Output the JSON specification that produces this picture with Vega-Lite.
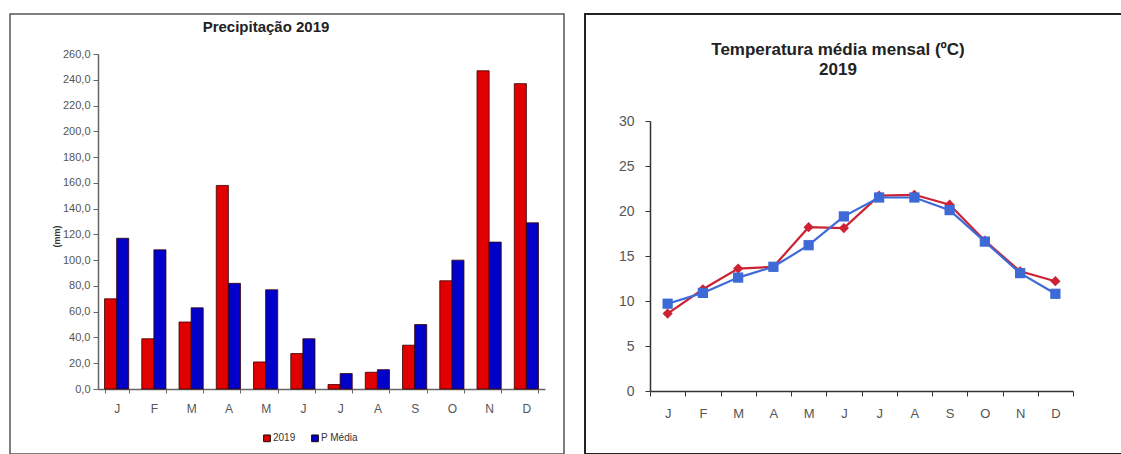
{
  "$schema": "https://vega.github.io/schema/vega-lite/v6.json",
  "padding": {"left": 9, "top": 13, "right": 0, "bottom": 0},
  "background": "white",
  "spacing": 19,
  "resolve": {"scale": {"color": "independent", "shape": "independent"}, "legend": {"color": "independent"}},
  "config": {
    "font": "Liberation Sans",
    "axis": {"grid": false}
  },
  "datasets": {
    "precip": [
      {"mes": "Jan", "serie": "2019", "valor": 70},
      {"mes": "Jan", "serie": "P Média", "valor": 117},
      {"mes": "Fev", "serie": "2019", "valor": 39},
      {"mes": "Fev", "serie": "P Média", "valor": 108},
      {"mes": "Mar", "serie": "2019", "valor": 52},
      {"mes": "Mar", "serie": "P Média", "valor": 63},
      {"mes": "Abr", "serie": "2019", "valor": 158},
      {"mes": "Abr", "serie": "P Média", "valor": 82},
      {"mes": "Mai", "serie": "2019", "valor": 21},
      {"mes": "Mai", "serie": "P Média", "valor": 77},
      {"mes": "Jun", "serie": "2019", "valor": 27.5},
      {"mes": "Jun", "serie": "P Média", "valor": 39},
      {"mes": "Jul", "serie": "2019", "valor": 3.5},
      {"mes": "Jul", "serie": "P Média", "valor": 12},
      {"mes": "Ago", "serie": "2019", "valor": 13},
      {"mes": "Ago", "serie": "P Média", "valor": 15},
      {"mes": "Set", "serie": "2019", "valor": 34},
      {"mes": "Set", "serie": "P Média", "valor": 50},
      {"mes": "Out", "serie": "2019", "valor": 84},
      {"mes": "Out", "serie": "P Média", "valor": 100},
      {"mes": "Nov", "serie": "2019", "valor": 247},
      {"mes": "Nov", "serie": "P Média", "valor": 114},
      {"mes": "Dez", "serie": "2019", "valor": 237},
      {"mes": "Dez", "serie": "P Média", "valor": 129}
    ],
    "temp": [
      {"mes": "Jan", "serie": "2019", "valor": 8.6},
      {"mes": "Fev", "serie": "2019", "valor": 11.3},
      {"mes": "Mar", "serie": "2019", "valor": 13.6},
      {"mes": "Abr", "serie": "2019", "valor": 13.8},
      {"mes": "Mai", "serie": "2019", "valor": 18.2},
      {"mes": "Jun", "serie": "2019", "valor": 18.1},
      {"mes": "Jul", "serie": "2019", "valor": 21.7},
      {"mes": "Ago", "serie": "2019", "valor": 21.8},
      {"mes": "Set", "serie": "2019", "valor": 20.7},
      {"mes": "Out", "serie": "2019", "valor": 16.7},
      {"mes": "Nov", "serie": "2019", "valor": 13.3},
      {"mes": "Dez", "serie": "2019", "valor": 12.2},
      {"mes": "Jan", "serie": "Média", "valor": 9.7},
      {"mes": "Fev", "serie": "Média", "valor": 10.9},
      {"mes": "Mar", "serie": "Média", "valor": 12.6},
      {"mes": "Abr", "serie": "Média", "valor": 13.8},
      {"mes": "Mai", "serie": "Média", "valor": 16.2},
      {"mes": "Jun", "serie": "Média", "valor": 19.4},
      {"mes": "Jul", "serie": "Média", "valor": 21.5},
      {"mes": "Ago", "serie": "Média", "valor": 21.5},
      {"mes": "Set", "serie": "Média", "valor": 20.1},
      {"mes": "Out", "serie": "Média", "valor": 16.6},
      {"mes": "Nov", "serie": "Média", "valor": 13.1},
      {"mes": "Dez", "serie": "Média", "valor": 10.8}
    ]
  },
  "hconcat": [
    {
      "width": 554,
      "height": 440,
      "view": {"stroke": "#555555", "strokeWidth": 1.5},
      "title": {
        "text": "Precipitação  2019",
        "font": "Liberation Sans",
        "fontSize": 15,
        "fontWeight": "bold",
        "color": "#222222",
        "anchor": "middle",
        "dx": -21,
        "offset": -33,
        "baseline": "alphabetic"
      },
      "data": {"name": "precip"},
      "mark": {"type": "bar", "stroke": "#3a0000", "strokeWidth": 0.8},
      "encoding": {
        "x": {
          "field": "mes",
          "type": "ordinal",
          "sort": ["Jan", "Fev", "Mar", "Abr", "Mai", "Jun", "Jul", "Ago", "Set", "Out", "Nov", "Dez"],
          "scale": {"range": [88, 535], "paddingInner": 0.35, "paddingOuter": 0.175},
          "axis": {
            "title": null,
            "orient": "bottom",
            "offset": -65,
            "labelExpr": "substring(datum.label, 0, 1)",
            "labelAngle": 0,
            "labelFontSize": 12,
            "labelColor": "#555555",
            "labelPadding": 10,
            "tickBand": "extent",
            "tickSize": 4,
            "tickColor": "#666666",
            "domainColor": "#666666",
            "domainWidth": 1.5
          }
        },
        "xOffset": {"field": "serie", "sort": ["2019", "P Média"]},
        "y": {
          "field": "valor",
          "type": "quantitative",
          "scale": {"domain": [0, 260], "range": [375, 40], "nice": false},
          "axis": {
            "orient": "left",
            "offset": -88,
            "title": "(mm)",
            "titleFontSize": 9,
            "titleFontWeight": "bold",
            "titleColor": "#333333",
            "titlePadding": 1,
            "titleY": 222,
            "values": [0, 20, 40, 60, 80, 100, 120, 140, 160, 180, 200, 220, 240, 260],
            "labelExpr": "replace(format(datum.value, '.1f'), '.', ',')",
            "labelFontSize": 11,
            "labelColor": "#555555",
            "labelPadding": 3,
            "tickSize": 5,
            "tickColor": "#666666",
            "domainColor": "#666666",
            "domainWidth": 1.5
          }
        },
        "color": {
          "field": "serie",
          "type": "nominal",
          "scale": {"domain": ["2019", "P Média"], "range": ["#e00000", "#0000c8"]},
          "legend": {
            "title": null,
            "orient": "none",
            "legendX": 252,
            "legendY": 419,
            "direction": "horizontal",
            "symbolType": "square",
            "symbolSize": 45,
            "symbolStrokeColor": "#1a0000",
            "symbolStrokeWidth": 1,
            "labelFontSize": 10,
            "labelColor": "#333333",
            "labelOffset": 1,
            "columnPadding": 13
          }
        }
      }
    },
    {
      "width": 538,
      "height": 440,
      "view": {"stroke": "#222222", "strokeWidth": 2},
      "title": {
        "text": ["Temperatura média mensal (ºC)", "2019"],
        "font": "Liberation Sans",
        "fontSize": 17,
        "fontWeight": "bold",
        "color": "#222222",
        "anchor": "middle",
        "dx": -16,
        "offset": -78,
        "lineHeight": 20,
        "baseline": "alphabetic"
      },
      "data": {"name": "temp"},
      "encoding": {
        "x": {
          "field": "mes",
          "type": "ordinal",
          "bandPosition": 0.5,
          "sort": ["Jan", "Fev", "Mar", "Abr", "Mai", "Jun", "Jul", "Ago", "Set", "Out", "Nov", "Dez"],
          "scale": {"type": "band", "range": [65, 488], "paddingInner": 0, "paddingOuter": 0},
          "axis": {
            "title": null,
            "orient": "bottom",
            "offset": -63,
            "labelExpr": "substring(datum.label, 0, 1)",
            "labelAngle": 0,
            "labelFontSize": 13,
            "labelColor": "#555555",
            "labelPadding": 11,
            "tickBand": "extent",
            "tickSize": 5,
            "tickColor": "#333333",
            "domainColor": "#333333",
            "domainWidth": 1.5
          }
        },
        "y": {
          "field": "valor",
          "type": "quantitative",
          "scale": {"domain": [0, 30], "range": [377, 107], "nice": false},
          "axis": {
            "orient": "left",
            "offset": -65,
            "title": null,
            "values": [0, 5, 10, 15, 20, 25, 30],
            "labelFontSize": 14,
            "labelColor": "#555555",
            "labelPadding": 11,
            "tickSize": 5,
            "tickColor": "#333333",
            "domainColor": "#333333",
            "domainWidth": 1.5
          }
        },
        "color": {
          "field": "serie",
          "type": "nominal",
          "scale": {"domain": ["2019", "Média"], "range": ["#cc2233", "#3d6ad6"]},
          "legend": null
        }
      },
      "layer": [
        {"mark": {"type": "line", "strokeWidth": 2.2}},
        {
          "mark": {"type": "point", "filled": true, "size": 105, "opacity": 1},
          "encoding": {
            "shape": {
              "field": "serie",
              "type": "nominal",
              "scale": {"domain": ["2019", "Média"], "range": ["diamond", "square"]},
              "legend": null
            }
          }
        }
      ]
    }
  ]
}
